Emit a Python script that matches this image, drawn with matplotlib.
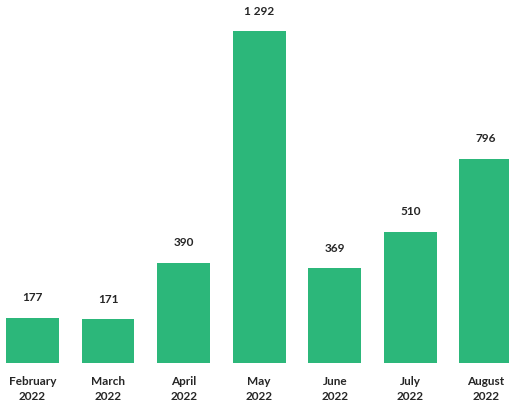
import numpy as np
import matplotlib
matplotlib.use("Agg")
import matplotlib.pyplot as plt

months = ["February", "March", "April", "May", "June", "July", "August"]
years = ["2022"] * 7
values = [177, 171, 390, 1292, 369, 510, 796]
value_labels = ["177", "171", "390", "1 292", "369", "510", "796"]

bar_color = "#2cb77a"
text_color = "#262626"

fig = plt.figure(figsize=(5.09, 4.08), dpi=100)
ax = fig.add_axes([6 / 509, 45 / 408, 503 / 509, 363 / 408])

x = np.arange(len(values))
ax.bar(x, values, width=0.7, color=bar_color)

for xi, v, lab in zip(x, values, value_labels):
    ax.annotate(lab, (xi, v), xytext=(0, 20), textcoords="offset pixels",
                ha="center", va="center", fontsize=8.5, fontweight="bold",
                color=text_color, family="Lato", annotation_clip=False)

for xi, m, y in zip(x, months, years):
    ax.annotate(m + "\n" + y, (xi, 0), xytext=(0, -26), textcoords="offset pixels",
                ha="center", va="center", fontsize=8.5, fontweight="bold",
                color=text_color, family="Lato", linespacing=1.45,
                annotation_clip=False)

# last bar runs slightly past the right edge in the original
ax.set_xlim(-0.35, 6.307)
ax.set_ylim(0, 1413)
ax.axis("off")

fig.savefig("out.png", dpi=100)
